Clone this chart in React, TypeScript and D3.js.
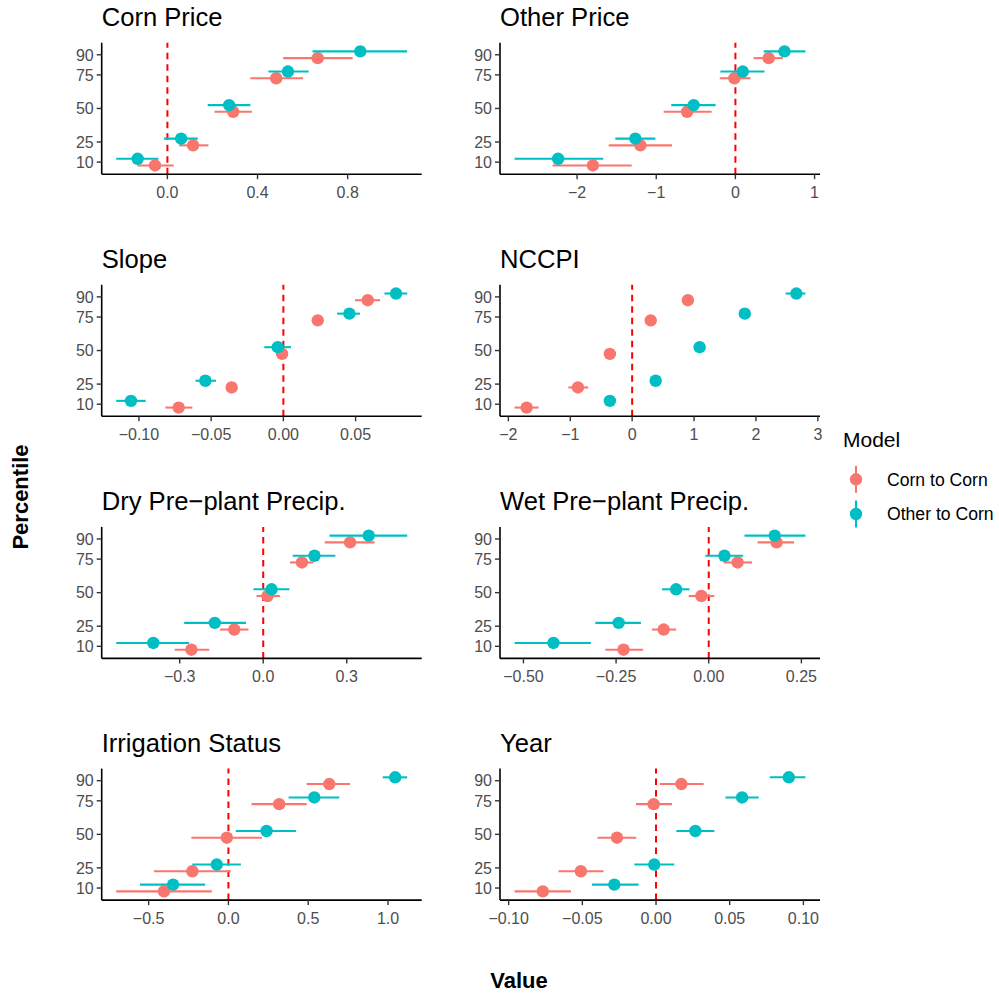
import React from "react";
import * as d3 from "d3";

const percentiles = [10, 25, 50, 75, 90];
const models = ["Corn to Corn", "Other to Corn"];
const modelColors = ["#F8766D", "#00BFC4"];

const titles = [
  "Corn Price", "Other Price", "Slope", "NCCPI",
  "Dry Pre\u2212plant Precip.", "Wet Pre\u2212plant Precip.", "Irrigation Status", "Year",
];

// Corn to Corn estimates / lower / upper
const cornEst = [
  [-0.055, 0.114, 0.292, 0.483, 0.667],
  [-1.80, -1.20, -0.61, -0.013, 0.42],
  [-0.0725, -0.0358, -0.0009, 0.0238, 0.0584],
  [-1.705, -0.876, -0.36, 0.30, 0.90],
  [-0.258, -0.104, 0.0156, 0.139, 0.312],
  [-0.23, -0.1216, -0.0198, 0.078, 0.183],
  [-0.404, -0.226, -0.01, 0.318, 0.632],
  [-0.0768, -0.051, -0.0265, -0.0016, 0.0172],
];
const cornLo = [
  [-0.133, 0.052, 0.209, 0.368, 0.514],
  [-2.31, -1.60, -0.906, -0.198, 0.23],
  [-0.0817, -0.0385, -0.0035, 0.021, 0.0496],
  [-1.90, -1.03, -0.42, 0.25, 0.85],
  [-0.318, -0.155, -0.024, 0.096, 0.221],
  [-0.279, -0.153, -0.054, 0.0405, 0.132],
  [-0.703, -0.466, -0.232, 0.145, 0.49],
  [-0.096, -0.0662, -0.0397, -0.0136, 0.0025],
];
const cornHi = [
  [0.028, 0.182, 0.375, 0.602, 0.822],
  [-1.31, -0.80, -0.30, 0.19, 0.60],
  [-0.063, -0.033, 0.0017, 0.0266, 0.067],
  [-1.51, -0.71, -0.30, 0.35, 0.95],
  [-0.194, -0.053, 0.06, 0.18, 0.40],
  [-0.177, -0.088, 0.015, 0.117, 0.23],
  [-0.104, 0.015, 0.21, 0.49, 0.762],
  [-0.0577, -0.0356, -0.0134, 0.0109, 0.0323],
];
// Other to Corn estimates / lower / upper
const otherEst = [
  [-0.132, 0.061, 0.274, 0.535, 0.856],
  [-2.24, -1.264, -0.527, 0.093, 0.62],
  [-0.1055, -0.054, -0.0039, 0.0457, 0.078],
  [-0.36, 0.38, 1.09, 1.82, 2.653],
  [-0.395, -0.174, 0.03, 0.184, 0.379],
  [-0.419, -0.243, -0.088, 0.0424, 0.178],
  [-0.347, -0.073, 0.239, 0.538, 1.045],
  [-0.0283, -0.0012, 0.0267, 0.0584, 0.0901],
];
const otherLo = [
  [-0.227, -0.015, 0.179, 0.448, 0.644],
  [-2.79, -1.517, -0.81, -0.19, 0.358],
  [-0.1157, -0.0608, -0.0132, 0.0372, 0.070],
  [-0.41, 0.33, 1.04, 1.77, 2.48],
  [-0.528, -0.284, -0.035, 0.106, 0.238],
  [-0.524, -0.306, -0.126, -0.009, 0.0965],
  [-0.554, -0.226, 0.046, 0.377, 0.967],
  [-0.0435, -0.0147, 0.0138, 0.0471, 0.0772],
];
const otherHi = [
  [-0.04, 0.135, 0.368, 0.627, 1.064],
  [-1.67, -1.011, -0.25, 0.367, 0.885],
  [-0.0953, -0.0466, 0.0053, 0.053, 0.0857],
  [-0.31, 0.43, 1.14, 1.87, 2.80],
  [-0.266, -0.062, 0.094, 0.259, 0.517],
  [-0.318, -0.183, -0.052, 0.093, 0.261],
  [-0.146, 0.078, 0.423, 0.695, 1.12],
  [-0.0118, 0.0124, 0.0396, 0.0697, 0.1014],
];

const xTicks = [
  [0, 0.4, 0.8],
  [-2, -1, 0, 1],
  [-0.1, -0.05, 0, 0.05],
  [-2, -1, 0, 1, 2, 3],
  [-0.3, 0, 0.3],
  [-0.5, -0.25, 0, 0.25],
  [-0.5, 0, 0.5, 1.0],
  [-0.1, -0.05, 0, 0.05, 0.1],
];
const xTickDigits = [1, 0, 2, 0, 1, 2, 1, 2];

const FONT = "'Liberation Sans', Arial, Helvetica, sans-serif";

const colLeft = [101.7, 500];
const panelW = 320;
const rowTop = [42.7, 284.8, 526.9, 768.6];
const panelH = 131.5;
const dodge = 2.5;

function fmt(v: number, digits: number) {
  const s = Math.abs(v).toFixed(digits);
  return (v < 0 ? "\u2212" : "") + s;
}

function Panel({ idx }: { idx: number }) {
  const col = idx % 2;
  const row = Math.floor(idx / 2);
  const left = colLeft[col];
  const top = rowTop[row];
  const right = left + panelW;
  const bottom = top + panelH;

  const all = [...cornLo[idx], ...cornHi[idx], ...otherLo[idx], ...otherHi[idx], ...cornEst[idx], ...otherEst[idx]];
  const [mn, mx] = d3.extent(all) as [number, number];
  const pad = (mx - mn) * 0.05;
  const x = d3.scaleLinear().domain([mn - pad, mx + pad]).range([left, right]);
  const y = d3.scaleLinear().domain([1, 99]).range([bottom, top]);

  const series = [
    { est: cornEst[idx], lo: cornLo[idx], hi: cornHi[idx], off: -dodge, color: modelColors[0] },
    { est: otherEst[idx], lo: otherLo[idx], hi: otherHi[idx], off: dodge, color: modelColors[1] },
  ];

  return (
    <g>
      <text x={left} y={top - 16.5} fontSize={25.6} fontFamily={FONT} fill="#000">
        {titles[idx]}
      </text>
      {/* zero line */}
      <line x1={x(0)} x2={x(0)} y1={bottom} y2={top} stroke="#FF0000" strokeWidth={2} strokeDasharray="6.5,5" />
      {series.map((s, si) => (
        <g key={si}>
          {percentiles.map((p, i) => (
            <g key={i}>
              <line x1={x(s.lo[i])} x2={x(s.hi[i])} y1={y(p + s.off)} y2={y(p + s.off)} stroke={s.color} strokeWidth={2.1} />
              <circle cx={x(s.est[i])} cy={y(p + s.off)} r={6.2} fill={s.color} />
            </g>
          ))}
        </g>
      ))}
      {/* axes */}
      <line x1={left} x2={right} y1={bottom} y2={bottom} stroke="#000" strokeWidth={1.6} />
      <line x1={left} x2={left} y1={top} y2={bottom} stroke="#000" strokeWidth={1.6} />
      {percentiles.map((p) => (
        <g key={p}>
          <line x1={left - 5} x2={left} y1={y(p)} y2={y(p)} stroke="#333" strokeWidth={1.4} />
          <text x={left - 8} y={y(p)} dy="0.36em" textAnchor="end" fontSize={16} fontFamily={FONT} fill="#4D4D4D">
            {p}
          </text>
        </g>
      ))}
      {xTicks[idx].map((t) => (
        <g key={t}>
          <line x1={x(t)} x2={x(t)} y1={bottom} y2={bottom + 5} stroke="#333" strokeWidth={1.4} />
          <text x={x(t)} y={bottom + 24} textAnchor="middle" fontSize={16} fontFamily={FONT} fill="#4D4D4D">
            {fmt(t, xTickDigits[idx])}
          </text>
        </g>
      ))}
    </g>
  );
}

export default function App() {
  return (
    <svg width={999} height={996} style={{ position: "absolute", left: 0, top: 0, background: "#fff" }}>
      <rect width={999} height={996} fill="#fff" />
      {titles.map((_, i) => (
        <Panel key={i} idx={i} />
      ))}
      <text
        transform="translate(28,497) rotate(-90)"
        textAnchor="middle"
        fontSize={22}
        fontWeight="bold"
        fontFamily={FONT}
        fill="#000"
      >
        Percentile
      </text>
      <text x={519} y={988} textAnchor="middle" fontSize={22} fontWeight="bold" fontFamily={FONT} fill="#000">
        Value
      </text>
      {/* legend */}
      <text x={843} y={447} fontSize={21} fontFamily={FONT} fill="#000">
        Model
      </text>
      {models.map((m, i) => {
        const cy = 479.3 + i * 34.7;
        return (
          <g key={m}>
            <line x1={856} x2={856} y1={cy - 13.5} y2={cy + 13.5} stroke={modelColors[i]} strokeWidth={2.1} />
            <circle cx={856} cy={cy} r={6.2} fill={modelColors[i]} />
            <text x={887} y={cy} dy="0.36em" fontSize={17.6} fontFamily={FONT} fill="#000">
              {m}
            </text>
          </g>
        );
      })}
    </svg>
  );
}
